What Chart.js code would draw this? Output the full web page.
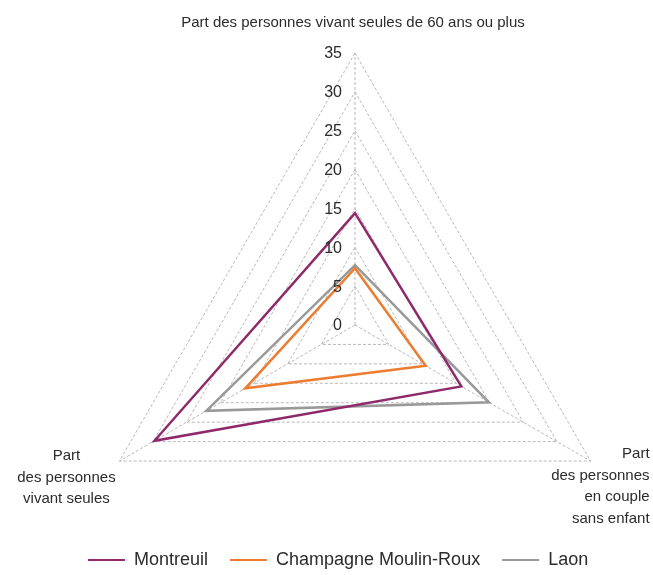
<!DOCTYPE html>
<html>
<head>
<meta charset="utf-8">
<script src="https://cdn.jsdelivr.net/npm/chart.js@4/dist/chart.umd.min.js"></script>
<style>
  body { margin: 0; background: #fff; }
  #wrap { width: 653px; height: 575px; }
</style>
</head>
<body>
<div id="wrap"><canvas id="radar"></canvas></div>
<script>
// axes, clockwise from the top
var axes = [
  ['Part des personnes vivant seules de 60 ans ou plus'],
  ['Part', 'des personnes', 'en couple', 'sans enfant'],
  ['Part', 'des personnes', 'vivant seules']
];
var villes = ['Montreuil', 'Champagne Moulin-Roux', 'Laon'];
var montreuil = [14.4, 15.8, 29.8];
var champagne = [7.3, 10.5, 16.3];
var laon = [7.7, 19.9, 22.1];
var tickMax = 35;
var tickStep = 5;

var colors = ['#8f2a6a', '#ec7c2f', '#999999'];
var RADIUS = 272;
var textColor = '#2b2b2b';
var gridColor = '#b8b8b8';

Chart.defaults.font.family = '"Liberation Sans", Arial, sans-serif';

// where each axis title sits, relative to the end of its axis
var labelPlace = [
  { dx: -2, dy: -26, align: 'center' },
  { dx: 59, dy: -3, align: 'right' },
  { dx: -53, dy: -1, align: 'center' }
];

var textPlugin = {
  id: 'radarTexts',
  afterDatasetsDraw: function(chart) {
    var scale = chart.scales.r;
    var ctx = chart.ctx;
    ctx.save();
    ctx.fillStyle = textColor;

    // tick values, left of the top axis
    ctx.font = '16px "Liberation Sans", Arial, sans-serif';
    ctx.textAlign = 'right';
    ctx.textBaseline = 'middle';
    scale.ticks.forEach(function(t) {
      var d = scale.getDistanceFromCenterForValue(t.value);
      ctx.fillText(String(t.value), scale.xCenter - 13, scale.yCenter - d + 1);
    });

    // axis titles
    ctx.font = '15px "Liberation Sans", Arial, sans-serif';
    ctx.textBaseline = 'alphabetic';
    axes.forEach(function(lines, i) {
      var p = scale.getPointPosition(i, scale.getDistanceFromCenterForValue(tickMax));
      var place = labelPlace[i];
      ctx.textAlign = place.align;
      lines.forEach(function(line, k) {
        ctx.fillText(line, p.x + place.dx, p.y + place.dy + k * 21.5);
      });
    });
    ctx.restore();
  }
};

function serie(label, data, color) {
  return {
    label: label,
    data: data,
    borderColor: color,
    backgroundColor: color,
    borderWidth: 2.5,
    borderJoinStyle: 'miter',
    fill: false,
    pointRadius: 0,
    pointHoverRadius: 0
  };
}

new Chart(document.getElementById('radar'), {
  type: 'radar',
  data: {
    labels: axes,
    datasets: [
      serie(villes[0], montreuil, colors[0]),
      serie(villes[1], champagne, colors[1]),
      serie(villes[2], laon, colors[2])
    ]
  },
  options: {
    responsive: true,
    maintainAspectRatio: false,
    animation: false,
    layout: { padding: { top: 53, left: 66, right: 9, bottom: -4 } },
    plugins: {
      tooltip: { enabled: false },
      legend: {
        position: 'bottom',
        align: 'start',
        labels: {
          boxWidth: 37,
          boxHeight: 2,
          padding: 22,
          color: textColor,
          font: { size: 18 },
          generateLabels: function(chart) {
            var items = Chart.defaults.plugins.legend.labels.generateLabels(chart);
            items.forEach(function(it) {
              it.fillStyle = it.strokeStyle;
              it.lineWidth = 0;
            });
            return items;
          }
        }
      }
    },
    scales: {
      r: {
        min: 0,
        max: tickMax,
        ticks: { display: false, stepSize: tickStep },
        pointLabels: { display: false },
        grid: { color: gridColor, lineWidth: 1, borderDash: [3, 2] },
        border: { dash: [3, 2] },
        angleLines: { color: gridColor, lineWidth: 1, borderDash: [3, 2] },
        afterFit: function(scale) {
          // triangle hangs from the top of the chart area
          scale.drawingArea = RADIUS;
          scale.xCenter = scale.left + scale.width / 2;
          scale.yCenter = scale.top + RADIUS;
        }
      }
    }
  },
  plugins: [textPlugin]
});
</script>
</body>
</html>
